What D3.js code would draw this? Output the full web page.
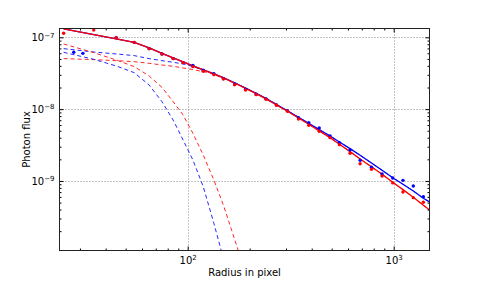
<!DOCTYPE html>
<html><head><meta charset="utf-8">
<script src="https://cdn.jsdelivr.net/npm/d3@7"></script>
<style>
body{margin:0;background:#fff;}
text{font-family:"DejaVu Sans",sans-serif;}
</style></head>
<body><svg id="c" width="477" height="287"></svg>
<script>
// ---- data ----
const radii = [25,35,45,55,65,75,85,95,106,119,134,149,169,191,215,240,270,305,345,387,435,491,545,614,687,780,878,989,1109,1245,1393];
const modelRadii = [25,35,45,55,65,75,85,95,106,119,134,149,169,191,215,240,270,305,345,387,435,491,545,614,687,780,878,989,1109,1245,1393,1560];

const redData = [1.14e-7,1.26e-7,9.9e-8,8.5e-8,6.95e-8,5.86e-8,5.05e-8,4.44e-8,3.9e-8,3.36e-8,3.02e-8,2.63e-8,2.19e-8,1.85e-8,1.59e-8,1.37e-8,1.13e-8,9.33e-9,7.3e-9,5.96e-9,4.91e-9,4.01e-9,3.2e-9,2.43e-9,1.74e-9,1.45e-9,1.17e-9,9.4e-10,7.03e-10,5.86e-10,5.05e-10];

const blueRadii = [28,31,45,55,65,75,85,95,106,119,134,149,169,191,215,240,270,305,345,387,435,491,545,614,687,780,878,989,1109,1245,1393];
const blueData = [6.18e-8,5.98e-8,9.9e-8,8.5e-8,6.95e-8,5.86e-8,5.05e-8,4.44e-8,4.04e-8,3.48e-8,3.12e-8,2.66e-8,2.24e-8,1.89e-8,1.61e-8,1.39e-8,1.14e-8,9.53e-9,7.62e-9,6.49e-9,5.47e-9,4.23e-9,3.42e-9,2.7e-9,1.94e-9,1.55e-9,1.25e-9,1.10e-9,1.02e-9,8.51e-10,6.05e-10];

const redTotal = [1.31e-7,1.09e-7,9.48e-8,8.52e-8,7.11e-8,5.99e-8,5.16e-8,4.54e-8,3.99e-8,3.51e-8,3.09e-8,2.72e-8,2.31e-8,1.95e-8,1.64e-8,1.39e-8,1.14e-8,9.33e-9,7.54e-9,6.15e-9,4.97e-9,4.01e-9,3.24e-9,2.56e-9,2.02e-9,1.58e-9,1.24e-9,9.58e-10,7.57e-10,5.93e-10,4.58e-10,3.59e-10];
const blueTotal = [1.31e-7,1.09e-7,9.48e-8,8.52e-8,7.11e-8,5.99e-8,5.16e-8,4.54e-8,4.0e-8,3.53e-8,3.11e-8,2.74e-8,2.33e-8,1.97e-8,1.66e-8,1.41e-8,1.16e-8,9.5e-9,7.7e-9,6.35e-9,5.19e-9,4.23e-9,3.49e-9,2.82e-9,2.28e-9,1.78e-9,1.41e-9,1.11e-9,8.99e-10,7.26e-10,5.74e-10,4.73e-10];

const redCore = [8.07e-8,6.12e-8,4.83e-8,3.91e-8,2.90e-8,2.01e-8,1.27e-8,8.3e-9,4.61e-9,2.30e-9,1.03e-9,4.63e-10,1.54e-10,5.19e-11];
const blueCore = [6.18e-8,4.94e-8,3.99e-8,3.22e-8,2.17e-8,1.27e-8,7.06e-9,3.72e-9,1.96e-9,8.34e-10,2.58e-10,8.38e-11];

const redHalo = [5.05e-8,4.89e-8,4.73e-8,4.58e-8,4.34e-8,4.12e-8,3.95e-8,3.74e-8,3.55e-8,3.33e-8,3.05e-8,2.67e-8,2.29e-8,1.95e-8,1.64e-8,1.39e-8,1.14e-8,9.33e-9,7.54e-9,6.15e-9,4.97e-9,4.01e-9,3.24e-9,2.56e-9,2.02e-9,1.58e-9,1.24e-9,9.58e-10,7.57e-10,5.93e-10,4.58e-10,3.59e-10];
const blueHalo = [6.95e-8,6.25e-8,5.86e-8,5.56e-8,5.05e-8,4.73e-8,4.49e-8,4.26e-8,3.91e-8,3.51e-8,3.12e-8,2.70e-8,2.33e-8,1.97e-8,1.66e-8,1.41e-8,1.16e-8,9.5e-9,7.7e-9,6.35e-9,5.19e-9,4.23e-9,3.49e-9,2.82e-9,2.28e-9,1.78e-9,1.41e-9,1.11e-9,8.99e-10,7.26e-10,5.74e-10,4.73e-10];

const xMajor = [100, 1000];
const xMinor = [30,40,50,60,70,80,90,200,300,400,500,600,700,800,900];
const yMajor = [1e-7, 1e-8, 1e-9];
const yMinor = [2e-10,3e-10,4e-10,5e-10,6e-10,7e-10,8e-10,9e-10,2e-9,3e-9,4e-9,5e-9,6e-9,7e-9,8e-9,9e-9,2e-8,3e-8,4e-8,5e-8,6e-8,7e-8,8e-8,9e-8];
const xExp = {100:"2", 1000:"3"};
const yExp = {1e-7:"\u22127", 1e-8:"\u22128", 1e-9:"\u22129"};

// ---- layout ----
const L = 59.5, R = 429.5, T = 28.5, B = 250.5;
const svg = d3.select("#c");
const x = d3.scaleLog().domain([23.87, 1492]).range([L, R]);
const y = d3.scaleLog().domain([1.076e-10, 1.326e-7]).range([B, T]);

svg.append("defs").append("clipPath").attr("id","clip")
  .append("rect").attr("x",L).attr("y",T).attr("width",R-L).attr("height",B-T);

// grid
const grid = svg.append("g");
grid.selectAll("line.gx").data(xMajor).join("line")
  .attr("x1",d=>Math.round(x(d))+0.5).attr("x2",d=>Math.round(x(d))+0.5).attr("y1",T).attr("y2",B)
  .attr("stroke","#888").attr("stroke-width",1).attr("stroke-dasharray","1,2");
grid.selectAll("line.gy").data(yMajor).join("line")
  .attr("y1",d=>Math.round(y(d))+0.5).attr("y2",d=>Math.round(y(d))+0.5).attr("x1",L).attr("x2",R)
  .attr("stroke","#888").attr("stroke-width",1).attr("stroke-dasharray","1,2");

const plot = svg.append("g").attr("clip-path","url(#clip)");
const line = d3.line().x(d=>x(d[0])).y(d=>y(d[1]));
function pairs(rs, vs){ return vs.map((v,i)=>[rs[i], v]); }

// dashed components
[[blueHalo,"#0000ff"],[redHalo,"#ff0000"],[blueCore,"#0000ff"],[redCore,"#ff0000"]].forEach(([vals,col])=>{
  plot.append("path").attr("d", line(pairs(modelRadii, vals)))
    .attr("fill","none").attr("stroke",col).attr("stroke-width",1).attr("stroke-dasharray","4,3").attr("opacity",0.85);
});
// solid totals
[[blueTotal,"#0000ff"],[redTotal,"#ff0000"]].forEach(([vals,col])=>{
  plot.append("path").attr("d", line(pairs(modelRadii, vals)))
    .attr("fill","none").attr("stroke",col).attr("stroke-width",1.3);
});
// data points
plot.selectAll("circle.b").data(pairs(blueRadii, blueData)).join("circle")
  .attr("cx",d=>x(d[0])).attr("cy",d=>y(d[1])).attr("r",1.7).attr("fill","#0000ff");
plot.selectAll("circle.r").data(pairs(radii, redData)).join("circle")
  .attr("cx",d=>x(d[0])).attr("cy",d=>y(d[1])).attr("r",1.7).attr("fill","#ff0000");

// axes
function styleAxis(g){
  g.select(".domain").remove();
  g.selectAll(".tick line").attr("stroke","#000").attr("stroke-width",1);
  g.selectAll("text").attr("font-size",10).attr("fill","#000").attr("font-family","DejaVu Sans");
}
function expLabels(g, map){
  g.selectAll(".tick text").each(function(d){
    const t = d3.select(this); t.text("");
    t.append("tspan").text("10");
    t.append("tspan").attr("dy","-0.5em").attr("font-size",7).text(map[d]);
  });
}
const gxb = svg.append("g").attr("transform",`translate(0,${B})`)
  .call(d3.axisBottom(x).tickValues(xMajor).tickSizeInner(-4).tickSizeOuter(0).tickPadding(6));
expLabels(gxb, xExp); styleAxis(gxb);
svg.append("g").attr("transform",`translate(0,${B})`)
  .call(d3.axisBottom(x).tickValues(xMinor).tickSizeInner(-2).tickSizeOuter(0).tickFormat(""))
  .call(styleAxis);
svg.append("g").attr("transform",`translate(0,${T})`)
  .call(d3.axisTop(x).tickValues(xMajor).tickSizeInner(-4).tickSizeOuter(0).tickFormat(""))
  .call(styleAxis);
svg.append("g").attr("transform",`translate(0,${T})`)
  .call(d3.axisTop(x).tickValues(xMinor).tickSizeInner(-2).tickSizeOuter(0).tickFormat(""))
  .call(styleAxis);

const gyl = svg.append("g").attr("transform",`translate(${L},0)`)
  .call(d3.axisLeft(y).tickValues(yMajor).tickSizeInner(-4).tickSizeOuter(0).tickPadding(5));
expLabels(gyl, yExp); styleAxis(gyl);
svg.append("g").attr("transform",`translate(${L},0)`)
  .call(d3.axisLeft(y).tickValues(yMinor).tickSizeInner(-2).tickSizeOuter(0).tickFormat(""))
  .call(styleAxis);
svg.append("g").attr("transform",`translate(${R},0)`)
  .call(d3.axisRight(y).tickValues(yMajor).tickSizeInner(-4).tickSizeOuter(0).tickFormat(""))
  .call(styleAxis);
svg.append("g").attr("transform",`translate(${R},0)`)
  .call(d3.axisRight(y).tickValues(yMinor).tickSizeInner(-2).tickSizeOuter(0).tickFormat(""))
  .call(styleAxis);

// frame
svg.append("rect").attr("x",L).attr("y",T).attr("width",R-L).attr("height",B-T)
  .attr("fill","none").attr("stroke","#222").attr("stroke-width",1);

// axis titles
svg.append("text").attr("x",(L+R)/2).attr("y",276).attr("text-anchor","middle")
  .attr("font-size",10).text("Radius in pixel");
svg.append("text").attr("transform",`translate(30,${(T+B)/2}) rotate(-90)`).attr("text-anchor","middle")
  .attr("font-size",10).text("Photon flux");
</script></body></html>
